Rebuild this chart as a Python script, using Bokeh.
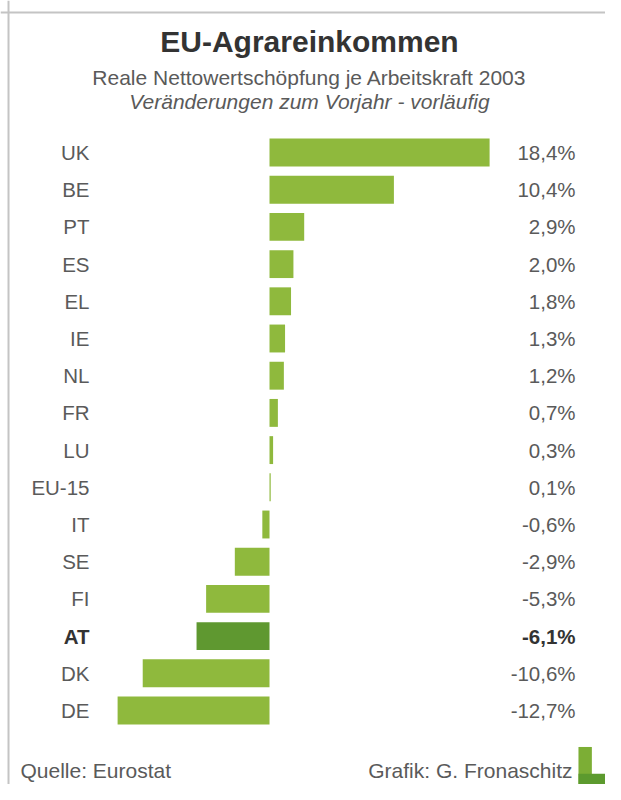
from bokeh.plotting import figure
from bokeh.models import Range1d, ColumnDataSource, Label, Span, BoxAnnotation
from bokeh.core.properties import value
from bokeh.embed import file_html
from bokeh.resources import INLINE

countries = ["UK", "BE", "PT", "ES", "EL", "IE", "NL", "FR", "LU", "EU-15",
             "IT", "SE", "FI", "AT", "DK", "DE"]
changes = [18.4, 10.4, 2.9, 2.0, 1.8, 1.3, 1.2, 0.7, 0.3, 0.1,
           -0.6, -2.9, -5.3, -6.1, -10.6, -12.7]
highlight = "AT"

title = "EU-Agrareinkommen"
subtitle1 = "Reale Nettowertschöpfung je Arbeitskraft 2003"
subtitle2 = "Veränderungen zum Vorjahr - vorläufig"
source_text = "Quelle: Eurostat"
credit_text = "Grafik: G. Fronaschitz"

FONT = "Liberation Sans"
GREEN = "#8fb93d"
DARK_GREEN = "#5f9830"
TEXT = "#5a5a5a"

rows = list(range(len(countries)))
colors = [DARK_GREEN if c == highlight else GREEN for c in countries]
styles = ["bold" if c == highlight else "normal" for c in countries]
labels = [("%.1f%%" % v).replace(".", ",") for v in changes]
tcolors = ["#333333" if c == highlight else TEXT for c in countries]

src = ColumnDataSource(dict(row=rows, country=countries, change=changes,
                            color=colors, style=styles, label=labels, tcolor=tcolors))

p = figure(width=605, height=784, output_backend="svg", toolbar_location=None,
           x_range=Range1d(-22.49, 28.09), y_range=Range1d(16.989, -4.086),
           x_axis_type=None, y_axis_type=None, min_border=0,
           background_fill_color="white", border_fill_color="white")
p.outline_line_color = None
p.grid.visible = False

p.hbar(y="row", left=0, right="change", height=0.75, fill_color="color",
       line_color=None, source=src)

LABEL_X = -15.05
VALUE_X = 25.59
p.text(x=LABEL_X, y="row", text="country", source=src, text_align="right",
       text_baseline="middle", text_font=value(FONT), text_font_size="20.5px",
       text_font_style="style", text_color="tcolor")
p.text(x=VALUE_X, y="row", text="label", source=src, text_align="right",
       text_baseline="middle", text_font=value(FONT), text_font_size="20.5px",
       text_font_style="style", text_color="tcolor")

CX = 3.34
p.add_layout(Label(x=CX, y=-2.984, text=title, text_align="center",
                   text_baseline="middle", text_font=FONT, text_font_size="30px",
                   text_font_style="bold", text_color="#333333"))
p.add_layout(Label(x=CX, y=-2.016, text=subtitle1, text_align="center",
                   text_baseline="middle", text_font=FONT, text_font_size="21px",
                   text_color=TEXT))
p.add_layout(Label(x=CX, y=-1.371, text=subtitle2, text_align="center",
                   text_baseline="middle", text_font=FONT, text_font_size="21px",
                   text_font_style="italic", text_color=TEXT))
p.add_layout(Label(x=-20.82, y=16.6, text=source_text, text_align="left",
                   text_baseline="middle", text_font=FONT, text_font_size="21px",
                   text_color=TEXT))
p.add_layout(Label(x=25.33, y=16.6, text=credit_text, text_align="right",
                   text_baseline="middle", text_font=FONT, text_font_size="21px",
                   text_color=TEXT))

# frame lines
p.add_layout(Span(location=-21.82, dimension="height", line_color="#c4c4c4", line_width=2))
p.add_layout(Span(location=-3.763, dimension="width", line_color="#c4c4c4", line_width=2))

# logo
p.add_layout(BoxAnnotation(left=25.83, right=26.95, top=15.98, bottom=16.989,
                           fill_color="#7cae35", fill_alpha=1, line_color=None))
p.add_layout(BoxAnnotation(left=25.83, right=28.09, top=16.7, bottom=16.989,
                           fill_color="#5c9a2e", fill_alpha=1, line_color=None))

open("out.html", "w").write(file_html(p, INLINE))
